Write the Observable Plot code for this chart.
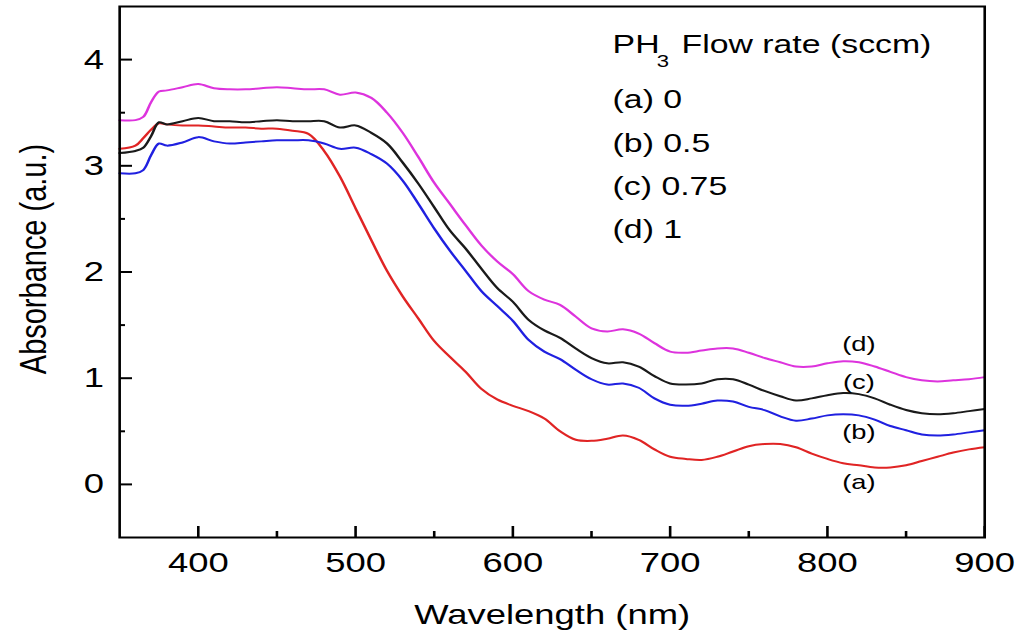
<!DOCTYPE html>
<html><head><meta charset="utf-8">
<script src="https://cdn.jsdelivr.net/npm/d3@7"></script>
<script src="https://cdn.jsdelivr.net/npm/@observablehq/plot@0.6"></script>
<style>html,body{margin:0;padding:0;background:#fff;overflow:hidden}#chart svg{display:block}</style>
</head><body><div id="chart"></div>
<script>
// Wavelength (nm)
const wavelength = [350,360,365,370,375,380,390,400,410,420,430,440,450,460,470,480,490,500,510,520,530,540,550,560,570,580,590,600,610,620,630,640,650,660,670,680,690,700,710,720,730,740,750,760,770,780,790,800,810,820,830,840,850,860,870,880,890,900];
// (a) PH3 0 sccm
const absA = [3.16,3.19,3.26,3.34,3.40,3.39,3.38,3.38,3.37,3.36,3.36,3.35,3.35,3.33,3.30,3.14,2.90,2.60,2.30,2.01,1.77,1.56,1.35,1.20,1.06,0.90,0.80,0.74,0.69,0.62,0.50,0.42,0.41,0.43,0.46,0.42,0.33,0.26,0.24,0.23,0.26,0.31,0.36,0.38,0.38,0.35,0.29,0.24,0.20,0.18,0.16,0.16,0.18,0.22,0.26,0.30,0.33,0.35];
// (b) 0.5 sccm
const absB = [2.93,2.93,2.96,3.10,3.21,3.19,3.22,3.27,3.23,3.21,3.22,3.23,3.24,3.24,3.24,3.21,3.16,3.17,3.11,3.02,2.86,2.64,2.41,2.20,2.01,1.82,1.68,1.54,1.36,1.25,1.18,1.08,0.99,0.94,0.95,0.91,0.81,0.75,0.74,0.76,0.79,0.78,0.73,0.70,0.64,0.60,0.62,0.65,0.66,0.65,0.61,0.55,0.51,0.47,0.46,0.47,0.49,0.51];
// (c) 0.75 sccm
const absC = [3.12,3.14,3.17,3.28,3.41,3.39,3.42,3.45,3.42,3.42,3.41,3.42,3.43,3.42,3.42,3.42,3.36,3.38,3.31,3.21,3.03,2.83,2.61,2.39,2.22,2.03,1.85,1.72,1.55,1.45,1.38,1.28,1.19,1.14,1.15,1.11,1.02,0.95,0.94,0.95,0.99,0.99,0.94,0.88,0.83,0.79,0.81,0.84,0.86,0.85,0.81,0.75,0.70,0.67,0.66,0.67,0.69,0.71];
// (d) 1 sccm
const absD = [3.43,3.43,3.46,3.60,3.70,3.71,3.74,3.77,3.73,3.72,3.72,3.73,3.74,3.73,3.72,3.72,3.67,3.69,3.64,3.50,3.31,3.08,2.84,2.64,2.44,2.25,2.10,1.98,1.82,1.74,1.69,1.58,1.47,1.44,1.46,1.42,1.33,1.25,1.24,1.26,1.28,1.28,1.24,1.19,1.15,1.11,1.11,1.14,1.16,1.15,1.11,1.06,1.01,0.98,0.97,0.98,0.99,1.01];

const seriesNames = ["(a)","(b)","(c)","(d)"];
const seriesColors = ["#e02424","#2020e0","#1a1a1a","#dd33dd"];
const legendTitle = ["PH", "3", "Flow rate (sccm)"];
const legendLines = ["(a) 0","(b) 0.5","(c) 0.75","(d) 1"];
const labelAt = 820;
const xMajor = [400,500,600,700,800,900];
const xMinor = [450,550,650,750,850];
const yMajor = [0,1,2,3,4];
const yMinor = [0.5,1.5,2.5,3.5];
const xLabel = "Wavelength (nm)";
const yLabel = "Absorbance (a.u.)";
const xDomain = [350, 900];
const yDomain = [-0.5, 4.5];

const values = [absA, absB, absC, absD];
const rows = [];
seriesNames.forEach((s, k) => wavelength.forEach((w, i) => rows.push({s, w, A: values[k][i]})));
const at = s => rows.filter(r => r.s === s && r.w === labelAt);

const W = 785, H = 639, OUTW = 1021;
const mL = 91.5, mR = 28.4, mT = 6, mB = 102;
// data units per internal pixel, to express inward tick lengths in pixels
const ux = (xDomain[1] - xDomain[0]) / (W - mL - mR);
const uy = (yDomain[1] - yDomain[0]) / (H - mT - mB);
const labelDy = {"(a)": 24, "(b)": 24, "(c)": -5, "(d)": -11};

const plot = Plot.plot({
  width: W, height: H,
  marginLeft: mL, marginRight: mR, marginTop: mT, marginBottom: mB,
  style: {fontFamily: "'Liberation Sans', Arial, sans-serif", fontSize: "28px", background: "white", color: "black"},
  x: {domain: xDomain},
  y: {domain: yDomain},
  color: {domain: seriesNames, range: seriesColors},
  marks: [
    Plot.line(rows, {x: "w", y: "A", z: "s", stroke: "s", strokeWidth: 2, curve: "catmull-rom"}),
    ...seriesNames.map(s => Plot.text(at(s), {x: "w", y: "A", text: "s", fontSize: 21, lineAnchor: "bottom", dy: labelDy[s], fill: "black"})),
    Plot.ruleX(xMajor, {x: d => d, y1: yDomain[0], y2: yDomain[0] + 11 * uy, stroke: "black", strokeWidth: 2}),
    Plot.ruleX(xMinor, {x: d => d, y1: yDomain[0], y2: yDomain[0] + 6 * uy, stroke: "black", strokeWidth: 2}),
    Plot.ruleY(yMajor, {y: d => d, x1: xDomain[0], x2: xDomain[0] + 10 * ux, stroke: "black", strokeWidth: 2}),
    Plot.ruleY(yMinor, {y: d => d, x1: xDomain[0], x2: xDomain[0] + 4.6 * ux, stroke: "black", strokeWidth: 2}),
    Plot.axisX({ticks: xMajor, tickSize: 0, tickPadding: 15, fontSize: 28, label: null}),
    Plot.axisY({ticks: yMajor, tickSize: 0, tickPadding: 12, fontSize: 28, label: null, tickFormat: d3.format("d")}),
    Plot.frame({stroke: "black", strokeWidth: 2}),
    Plot.text([xLabel], {text: d => d, frameAnchor: "bottom", dy: 86, lineAnchor: "bottom", textAnchor: "middle", fontSize: 28}),
    Plot.text([yLabel], {text: d => d, frameAnchor: "left", rotate: -90, dx: -66, dy: -13, lineAnchor: "middle", textAnchor: "middle", fontSize: 29}),
    Plot.text([legendTitle[0]], {text: d => d, frameAnchor: "top-left", textAnchor: "start", lineAnchor: "bottom", dx: 379, dy: 46, fontSize: 26}),
    Plot.text([legendTitle[1]], {text: d => d, frameAnchor: "top-left", textAnchor: "start", lineAnchor: "bottom", dx: 413, dy: 60, fontSize: 17}),
    Plot.text([legendTitle[2]], {text: d => d, frameAnchor: "top-left", textAnchor: "start", lineAnchor: "bottom", dx: 432, dy: 46, fontSize: 26}),
    Plot.text([legendLines.join("\n")], {text: d => d, frameAnchor: "top-left", textAnchor: "start", lineAnchor: "top", lineHeight: 1.667, dx: 379, dy: 71, fontSize: 26})
  ]
});
plot.setAttribute("width", OUTW);
plot.setAttribute("height", H);
plot.setAttribute("viewBox", `0 0 ${W} ${H}`);
plot.setAttribute("preserveAspectRatio", "none");
plot.style.width = OUTW + "px";
plot.style.height = H + "px";
plot.style.maxWidth = "none";
document.getElementById("chart").appendChild(plot);
</script>
</body></html>
